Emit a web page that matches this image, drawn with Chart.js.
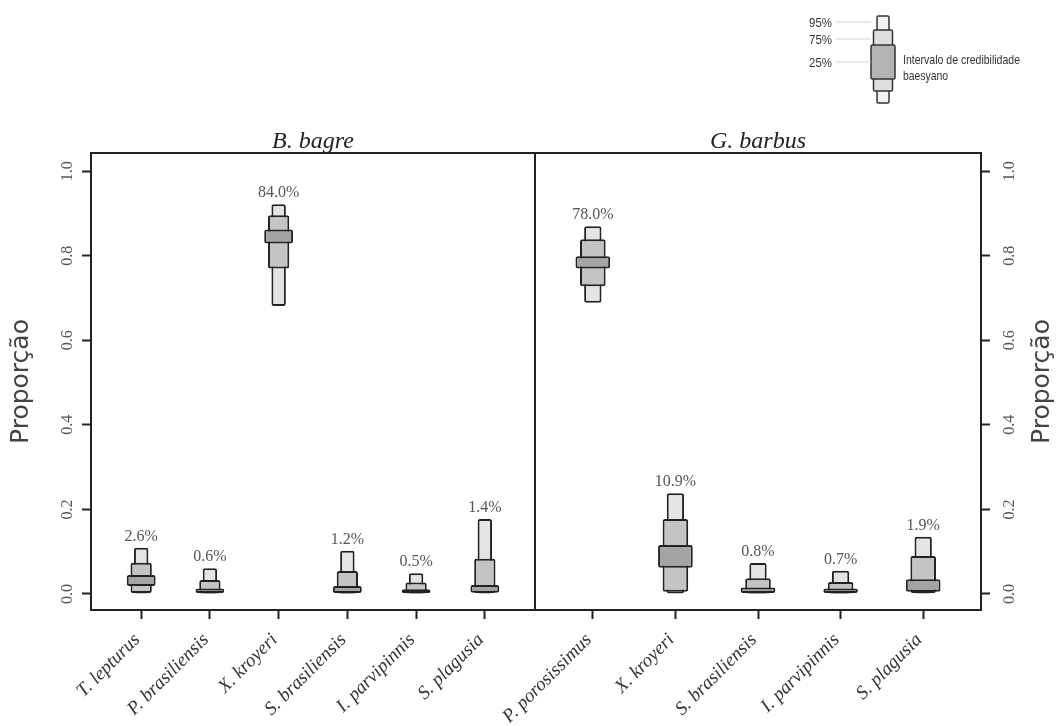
<!DOCTYPE html>
<html>
<head>
<meta charset="utf-8">
<script src="https://cdn.jsdelivr.net/npm/chart.js@4.4.1/dist/chart.umd.min.js"></script>
<style>
  html,body{margin:0;padding:0;background:#fff;}
  #wrap{position:relative;width:1058px;height:726px;overflow:hidden;background:#fff;}
  #cL{position:absolute;left:0;top:0;}
  #cR{position:absolute;left:435px;top:0;}
</style>
</head>
<body>
<div id="wrap">
  <canvas id="cL" width="536" height="726"></canvas>
  <canvas id="cR" width="623" height="726"></canvas>
</div>
<script>
/* ---- data: B. bagre ---- */
const bagreSpecies = ['T. lepturus','P. brasiliensis','X. kroyeri','S. brasiliensis','I. parvipinnis','S. plagusia'];
const bagreMedian  = [2.6, 0.6, 84.0, 1.2, 0.5, 1.4];
const bagreLo95 = [0.001, 0.000, 0.681, 0.000, 0.000, 0.000];
const bagreHi95 = [0.109, 0.061, 0.922, 0.102, 0.049, 0.177];
const bagreLo75 = [0.002, 0.001, 0.770, 0.001, 0.001, 0.002];
const bagreHi75 = [0.074, 0.033, 0.896, 0.054, 0.027, 0.083];
const bagreLo25 = [0.019, 0.002, 0.829, 0.002, 0.002, 0.003];
const bagreHi25 = [0.045, 0.013, 0.862, 0.019, 0.011, 0.021];

/* ---- data: G. barbus ---- */
const barbusSpecies = ['P. porosissimus','X. kroyeri','S. brasiliensis','I. parvipinnis','S. plagusia'];
const barbusMedian  = [78.0, 10.9, 0.8, 0.7, 1.9];
const barbusLo95 = [0.689, 0.000, 0.000, 0.000, 0.000];
const barbusHi95 = [0.870, 0.238, 0.073, 0.055, 0.135];
const barbusLo75 = [0.728, 0.005, 0.001, 0.001, 0.002];
const barbusHi75 = [0.839, 0.177, 0.037, 0.028, 0.090];
const barbusLo25 = [0.770, 0.062, 0.002, 0.002, 0.005];
const barbusHi25 = [0.799, 0.116, 0.015, 0.013, 0.035];

const yTicks = [0, 0.2, 0.4, 0.6, 0.8, 1.0];
const legendLevels = ['95%','75%','25%'];

const INK = '#222';
const FILL95 = '#e4e4e4', FILL75 = '#c4c4c4', FILL25 = '#a4a4a4';

/* nested credibility boxes: widest/darkest drawn on top */
function boxSets(lo95, hi95, lo75, hi75, lo25, hi25){
  const pts = (lo,hi) => lo.map((v,i)=>({x:i+1, y:[v, hi[i]]}));
  return [
    {label:'25%', data:pts(lo25,hi25), backgroundColor:FILL25, barPercentage:0.42, order:1},
    {label:'75%', data:pts(lo75,hi75), backgroundColor:FILL75, barPercentage:0.31, order:2},
    {label:'95%', data:pts(lo95,hi95), backgroundColor:FILL95, barPercentage:0.21, order:3},
  ].map(d=>({...d, grouped:false, categoryPercentage:1, borderColor:INK, borderWidth:2,
             borderSkipped:false, borderRadius:2}));
}

function rotText(ctx, txt, x, y){
  ctx.save(); ctx.translate(x,y); ctx.rotate(-Math.PI/2);
  ctx.textAlign='center'; ctx.textBaseline='middle'; ctx.fillText(txt,0,0); ctx.restore();
}

/* frame, panel title, % labels, side axis title */
const decor = {
  id:'decor',
  afterDatasetsDraw(chart, args, o){
    const {ctx, chartArea:a, scales:{x,y}} = chart;
    ctx.save();
    ctx.strokeStyle = INK; ctx.lineWidth = 2;
    ctx.strokeRect(a.left, a.top, a.right-a.left, a.bottom-a.top);

    ctx.font = '16px "Liberation Serif"'; ctx.fillStyle = '#555';
    ctx.textAlign = 'center'; ctx.textBaseline = 'alphabetic';
    o.median.forEach((m,i)=>{
      ctx.fillText(m.toFixed(1)+'%', x.getPixelForValue(i+1), y.getPixelForValue(o.top[i]) - 7);
    });

    ctx.font = 'italic 24px "Liberation Serif"'; ctx.fillStyle = INK;
    ctx.fillText(o.title, (a.left+a.right)/2, a.top - 5);

    ctx.font = '25px "DejaVu Sans"'; ctx.fillStyle = '#444';
    rotText(ctx, 'Proporção', o.axisTitleX, (a.top+a.bottom)/2);
    ctx.restore();
  }
};

/* little key in the top right corner */
const keyPlugin = {
  id:'keyPlugin',
  afterDraw(chart, args, o){
    if(!o.show) return;
    const ctx = chart.ctx, dx = -435;
    const cx = 883 + dx;
    ctx.save();
    const seg = (w, y0, y1, fill) => {
      ctx.beginPath(); ctx.roundRect(cx-w/2, y0, w, y1-y0, 1.5);
      ctx.fillStyle = fill; ctx.fill(); ctx.lineWidth = 1.5; ctx.strokeStyle = '#333'; ctx.stroke();
    };
    seg(12, 16, 103, '#f2f2f2');
    seg(19, 30, 91, '#dedede');
    seg(24, 45, 79, '#b4b4b4');
    // leaders + labels
    const ys = [22, 39, 62];
    ctx.strokeStyle = '#d4d4d4'; ctx.lineWidth = 1;
    ctx.font = '13px "Liberation Sans"'; ctx.fillStyle = '#333';
    ctx.textAlign = 'right'; ctx.textBaseline = 'middle';
    legendLevels.forEach((t,i)=>{
      ctx.beginPath(); ctx.moveTo(836+dx, ys[i]); ctx.lineTo(cx-12, ys[i]); ctx.stroke();
      ctx.fillText(t, 832+dx, ys[i]+1, 23);
    });
    ctx.textAlign = 'left';
    ctx.fillText('Intervalo de credibilidade', 903+dx, 60, 117);
    ctx.fillText('baesyano', 903+dx, 76, 45);
    ctx.restore();
  }
};

function panel(id, names, median, sets, top, opts){
  const yAxis = {
    type:'linear', position:opts.side, min:-0.038, max:1.043,
    afterBuildTicks: s => { s.ticks = yTicks.map(v=>({value:v})); },
    afterFit: s => { s.width = opts.yWidth; },
    ticks:{minRotation:90, maxRotation:90, crossAlign:'center', padding:opts.yPad,
      callback: v => v.toFixed(1), font:{family:'Liberation Serif', size:16}, color:'#555'},
    grid:{drawOnChartArea:false, tickLength:9, tickColor:INK, tickWidth:2},
    border:{display:false}
  };
  return new Chart(document.getElementById(id), {
    type:'bar',
    data:{datasets:sets},
    options:{
      responsive:false, animation:false, events:[], devicePixelRatio:1,
      layout:{padding:opts.padding},
      plugins:{legend:{display:false}, tooltip:{enabled:false},
        decor:{median, top, title:opts.title, axisTitleX:opts.axisTitleX},
        keyPlugin:{show:!!opts.key}},
      scales:{
        x:{type:'linear', min:opts.xMin, max:opts.xMax, offset:false,
          afterBuildTicks: s => { s.ticks = names.map((_,i)=>({value:i+1})); },
          afterFit: s => { s.height = 116; },
          ticks:{autoSkip:false, minRotation:45, maxRotation:45, padding:10, labelOffset:-4,
            callback: v => names[v-1],
            font:{family:'Liberation Serif', style:'italic', size:19}, color:'#333'},
          grid:{offset:false, drawOnChartArea:false, tickLength:9, tickColor:INK, tickWidth:2},
          border:{display:false}},
        y:yAxis
      }
    },
    plugins:[decor, keyPlugin]
  });
}

panel('cL', bagreSpecies, bagreMedian,
  boxSets(bagreLo95, bagreHi95, bagreLo75, bagreHi75, bagreLo25, bagreHi25), bagreHi95,
  {side:'left', yWidth:91, yPad:4, xMin:0.27, xMax:6.73, title:'B. bagre', axisTitleX:21,
   padding:{top:153, left:0, right:1, bottom:0}});

panel('cR', barbusSpecies, barbusMedian,
  boxSets(barbusLo95, barbusHi95, barbusLo75, barbusHi75, barbusLo25, barbusHi25), barbusHi95,
  {side:'right', yWidth:77, yPad:10, xMin:0.3, xMax:5.7, title:'G. barbus', axisTitleX:1042-435,
   padding:{top:153, left:100, right:0, bottom:0}, key:true});
</script>
</body>
</html>
